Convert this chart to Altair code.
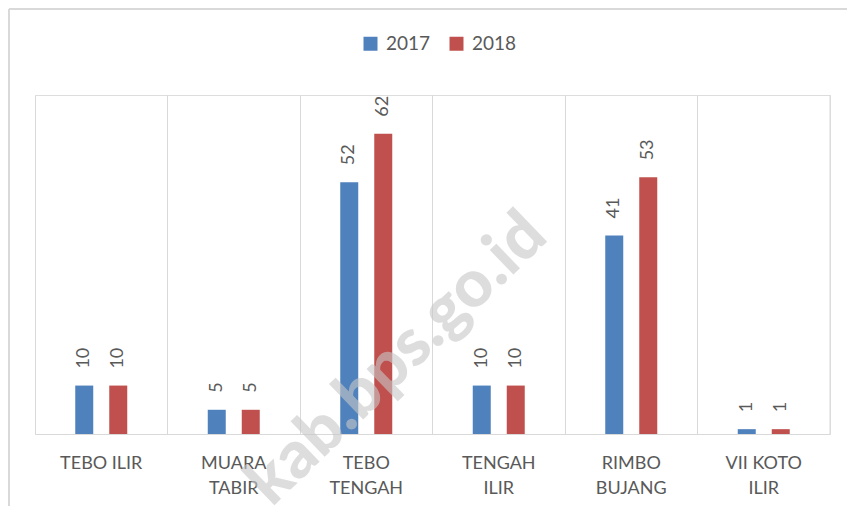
import altair as alt
import pandas as pd

categories = ["TEBO ILIR", "MUARA TABIR", "TEBO TENGAH", "TENGAH ILIR", "RIMBO BUJANG", "VII KOTO ILIR"]
years = ["2017", "2018"]
values_2017 = [10, 5, 52, 10, 41, 1]
values_2018 = [10, 5, 62, 10, 53, 1]
bar_colors = ["#4F81BD", "#C0504D"]
watermark = ["kab.bps.go.id"]

rows = []
for c, a, b in zip(categories, values_2017, values_2018):
    rows.append({"kecamatan": c, "tahun": "2017", "nilai": a})
    rows.append({"kecamatan": c, "tahun": "2018", "nilai": b})
df = pd.DataFrame(rows)

W, H = 795, 339
FONT = "Lato"
GREY = "#595959"
LINE = "#d9d9d9"

label_expr = (
    "datum.label == 'TEBO ILIR' ? datum.label : "
    "[substring(datum.label, 0, lastindexof(datum.label, ' ')), "
    "substring(datum.label, lastindexof(datum.label, ' ') + 1)]"
)

x_enc = alt.X(
    "kecamatan:N",
    sort=categories,
    scale=alt.Scale(paddingInner=0, paddingOuter=0),
    axis=alt.Axis(
        title=None,
        labelAngle=0,
        labelFont=FONT,
        labelFontSize=18,
        labelColor=GREY,
        labelPadding=20,
        labelLineHeight=25,
        labelExpr=label_expr,
        ticks=False,
        domainColor=LINE,
        domainWidth=1,
        grid=True,
        gridColor=LINE,
        gridWidth=1,
        bandPosition=0,
    ),
)
xoff = alt.XOffset(
    "tahun:N",
    sort=years,
    scale=alt.Scale(range=[40.25, 92.25], paddingInner=0.4706, paddingOuter=0),
)
y_enc = alt.Y("nilai:Q", scale=alt.Scale(domain=[0, 70]), axis=None)

base = alt.Chart(df)

bars = base.mark_bar().encode(
    x=x_enc,
    xOffset=xoff,
    y=y_enc,
    color=alt.Color(
        "tahun:N",
        sort=years,
        scale=alt.Scale(domain=years, range=bar_colors),
        legend=alt.Legend(
            title=None,
            orient="none",
            direction="horizontal",
            legendX=326,
            legendY=-61,
            symbolType="square",
            symbolSize=196,
            symbolStrokeWidth=0,
            labelFont=FONT,
            labelFontSize=19,
            labelColor=GREY,
            columnPadding=16,
            labelOffset=6,
        ),
    ),
)

labels = base.mark_text(
    angle=270, align="left", baseline="middle", dx=17,
    font=FONT, fontSize=18, color=GREY,
).encode(
    x=alt.X("kecamatan:N", sort=categories),
    xOffset=xoff,
    y=y_enc,
    text=alt.Text("nilai:Q"),
)

one = pd.DataFrame({"t": watermark})

right_grid = alt.Chart(one).mark_rule(color=LINE, strokeWidth=1).encode(
    x=alt.value(W), y=alt.value(0), y2=alt.value(H)
)
frame_top = alt.Chart(one).mark_rule(color=LINE, strokeWidth=2).encode(
    x=alt.value(-26), x2=alt.value(812), y=alt.value(-86)
)
frame_left = alt.Chart(one).mark_rule(color=LINE, strokeWidth=2).encode(
    x=alt.value(-26), y=alt.value(-86), y2=alt.value(411)
)

wm = alt.Chart(one).mark_text(
    angle=316, align="center", baseline="middle",
    font=FONT, fontSize=66, fontWeight=900, color="#c8c8c8", opacity=0.6,
).encode(
    x=alt.value(362), y=alt.value(264), text="t:N"
)

chart = alt.layer(
    right_grid, frame_top, frame_left, bars, labels, wm
).properties(
    width=W,
    height=H,
    autosize=alt.AutoSizeParams(type="none"),
    padding={"left": 27, "top": 87, "right": 17, "bottom": 72},
).configure_view(stroke=None).configure(background="white")

chart.save("out.html", embed_options={"renderer": "svg", "actions": False})
